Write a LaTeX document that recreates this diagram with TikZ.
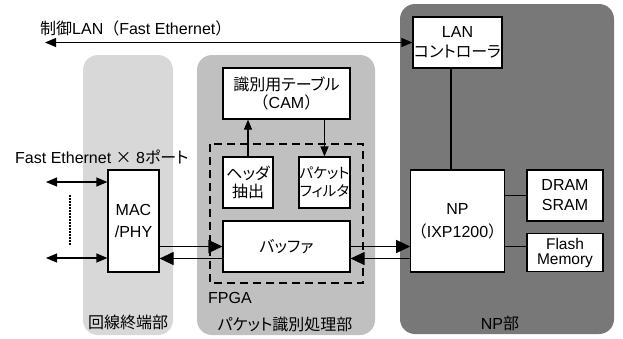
\documentclass[tikz,border=0pt]{standalone}
\usepackage{fontspec}
\setmainfont{Liberation Sans}
\newfontfamily\jp[RawFeature=+palt]{Noto Sans CJK JP}
\newfontfamily\jpw{Noto Sans CJK JP}
\usepackage{tikz}
\usetikzlibrary{arrows.meta, positioning}
\definecolor{lineunitgray}{RGB}{216, 216, 216}
\definecolor{fpgaunitgray}{RGB}{192, 192, 192}
\definecolor{npunitgray}{RGB}{120, 120, 120}

\begin{document}
\begin{tikzpicture}[
    x=1pt, y=-1pt,
    every node/.style={font=\fontsize{16}{20}\selectfont},
    unit/.style={rectangle, draw=black, fill=white, line width=1.2pt,
                 align=center, inner sep=0pt},
    panel/.style={rounded corners=15pt, fill=#1},
    label/.style={inner sep=0pt},
    link/.style={line width=1.2pt},
    smallarrow/.style={-{Triangle[length=10pt,width=8pt]}},
    botharrow/.style={{Triangle[length=11pt,width=9pt]}-{Triangle[length=11pt,width=9pt]}},
    dataarrow/.style={-{Triangle[length=14pt,width=13pt]}}
]
    \useasboundingbox (0,0) rectangle (623,338);

    % Panels
    \fill[panel=lineunitgray] (83,55) rectangle (173,335);
    \fill[panel=fpgaunitgray] (197,55) rectangle (375,335);
    \fill[panel=npunitgray] (400,4) rectangle (614,334);

    \node[label] (linelbl) at (128,322) {\jp 回線終端部};
    \node[label] (fpgalbl) at (285,324) {\jp パケット識別処理部};
    \node[label] (nplbl) at (500,323) {NP{\jp 部}};

    % FPGA
    \draw[line width=2pt, dash pattern=on 8pt off 5pt] (210,144) rectangle (363,283);
    \node[label, anchor=west] (fpga) at (208,298) {FPGA};

    \node[unit, minimum width=127pt, minimum height=51pt] (cam) at (286.5,93.5) {
        {\jp 識別用テーブル}\\[-2pt]{\jpw （}CAM{\jpw ）}
    };
    \node[unit, minimum width=50pt, minimum height=51pt] (hdr) at (248,182.5) {
        {\jp ヘッダ}\\[-2pt]{\jp 抽出}
    };
    \node[unit, minimum width=51pt, minimum height=51pt,
          font=\fontsize{14.5}{18}\selectfont] (filt) at (324.5,182.5) {
        {\jp パケット}\\{\jp フィルタ}
    };
    \node[unit, minimum width=127pt, minimum height=51pt] (buf) at (286.5,246.5) {\jp バッファ};

    % Line side
    \node[unit, minimum width=51pt, minimum height=102pt] (mac) at (133.5,221) {MAC\\[2pt]/PHY};
    \node[label, anchor=west] (porttext) at (15,157) {Fast Ethernet {\jp ×} 8{\jp ポート}};
    \coordinate (port1) at (46,182);
    \coordinate (port8) at (46,258);
    \coordinate (dotstop) at (70,195);
    \coordinate (dotsbot) at (70,245);

    % NP side
    \node[unit, minimum width=89pt, minimum height=51pt] (lan) at (457.5,42.5) {
        LAN\\{\jp コントローラ}
    };
    \node[unit, minimum width=89pt, minimum height=102pt] (np) at (457.5,221) {
        NP\\[3pt]{\jpw （}IXP1200{\jpw ）}
    };
    \node[unit, minimum width=76pt, minimum height=51pt] (dram) at (565,195.5) {DRAM\\SRAM};
    \node[unit, minimum width=76pt, minimum height=38pt,
          font=\fontsize{15.5}{15}\selectfont] (flash) at (565,252.5) {Flash\\Memory};

    \node[label, anchor=west] (ctltext) at (40,28) {{\jp 制御}LAN{\jpw （}Fast Ethernet{\jpw ）}};
    \coordinate (ctlend) at (45,42.5);

    % Arrows
    \draw[link, botharrow] (ctlend) -- (lan.west);
    \draw[link, botharrow] (port1) -- (port1 -| mac.west);
    \draw[link, botharrow] (port8) -- (port8 -| mac.west);
    \draw[line width=2pt, dash pattern=on 1.5pt off 1.5pt] (dotstop) -- (dotsbot);

    \draw[link, smallarrow] (hdr.north) -- (hdr.north |- cam.south);
    \draw[link, smallarrow] (cam.south -| filt.north) -- (filt.north);

    \draw[link, dataarrow] (buf.west -| mac.east) -- (buf.west);
    \draw[link, dataarrow] ([yshift=-12pt]buf.west) -- ([yshift=-12pt]buf.west -| mac.east);
    \draw[link, dataarrow] (buf.east) -- (buf.east -| np.west);
    \draw[link, dataarrow] ([yshift=-12pt]buf.east -| np.west) -- ([yshift=-12pt]buf.east);

    \draw[link] ([xshift=-6.5pt]lan.south) -- ([xshift=-6.5pt]lan.south |- np.north);
    \draw[link] (dram.west -| np.east) -- (dram.west);
    \draw[link] ([yshift=6pt]flash.west -| np.east) -- ([yshift=6pt]flash.west);
\end{tikzpicture}
\end{document}
